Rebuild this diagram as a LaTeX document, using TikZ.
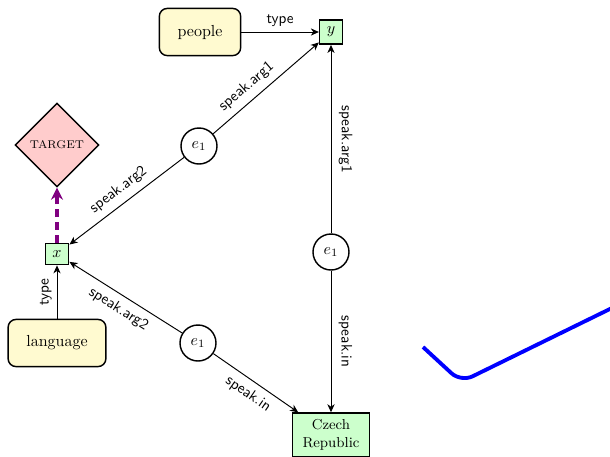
\documentclass[tikz,border=0pt]{standalone}
\usetikzlibrary{shapes.geometric,arrows.meta}
\definecolor{conceptfill}{RGB}{255,250,208}
\definecolor{varfill}{RGB}{204,255,204}
\definecolor{targetfill}{RGB}{255,204,204}
\definecolor{dpurple}{RGB}{128,0,128}
\begin{document}
\begin{tikzpicture}[x=0.625pt,y=-0.625pt,
  concept/.style={draw, line width=0.9pt, rounded corners=5pt, fill=conceptfill,
    inner xsep=11.4pt, minimum height=29.5pt, font=\normalsize},
  varbox/.style={draw, line width=0.9pt, fill=varfill, inner sep=4.5pt},
  entity/.style={draw, line width=0.9pt, fill=varfill, align=center,
    minimum width=48pt, minimum height=27.5pt, inner sep=3pt, font=\small},
  event/.style={draw, circle, line width=0.9pt, fill=white, minimum size=22.5pt, inner sep=1pt},
  targetnode/.style={draw, diamond, aspect=1, line width=0.9pt, fill=targetfill,
    minimum size=52.5pt, inner sep=1pt},
  edge/.style={-{Stealth[length=5pt,width=4.5pt,inset=1.5pt]}, line width=0.6pt},
  lab/.style={font=\sffamily\fontsize{9.5}{11}\selectfont, inner sep=4pt},
  vlab/.style={font=\sffamily\fontsize{9.5}{11}\selectfont, inner sep=4.5pt, anchor=south},
  dashedge/.style={-{Stealth[length=7.5pt,width=7.5pt,inset=2.5pt]}, dpurple, line width=2pt,
    dash pattern=on 5pt off 3pt}]
\useasboundingbox (0,0) rectangle (610,457);

\node[concept] (people) at (200,32) {people};
\node[varbox] (y) at (331,32) {$y$};
\node[targetnode] (target) at (57,145) {\scriptsize TARGET};
\node[varbox] (x) at (57,254) {$x$};
\node[concept] (language) at (57,343) {language};
\node[event] (e1a) at (199,146) {$e_1$};
\node[event] (e1b) at (331,252) {$e_1$};
\node[event] (e1c) at (198,343) {$e_1$};
\node[entity] (czech) at (331,435) {Czech\\Republic};

\draw[edge] (people) -- node[lab, above, inner sep=3pt] {type} (y);
\draw[edge] (e1a) -- node[lab, above, sloped, pos=0.4] {speak.arg1} (y);
\draw[edge] (e1a) -- node[lab, above, sloped] {speak.arg2} (x);
\draw[edge] (e1c) -- node[lab, below, sloped] {speak.arg2} (x);
\draw[edge] (e1c) -- node[lab, below, sloped] {speak.in} (czech);
\draw[edge] (e1b) -- node[vlab, rotate=-90] {speak.arg1} (y);
\draw[edge] (e1b) -- node[vlab, rotate=-90] {speak.in} (czech);
\draw[edge] (language) -- node[vlab, rotate=90, inner sep=3pt] {type} (x);
\draw[dashedge] (x) -- (target);

\draw[blue, line width=2.4pt, rounded corners=8pt] (423,347) -- (461,382) -- (614,307);
\end{tikzpicture}
\end{document}
